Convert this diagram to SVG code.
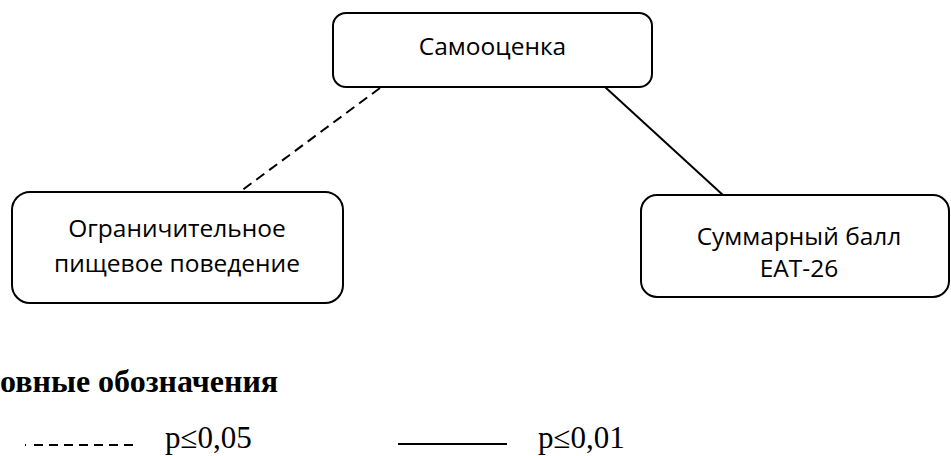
<svg xmlns="http://www.w3.org/2000/svg" width="951" height="456" viewBox="0 0 951 456">
<style>
.box{fill:#fff;stroke:#000;stroke-width:2}
.lbl{font-family:"Open Sans","Liberation Sans",sans-serif;font-size:24.5px;fill:#000;text-anchor:middle}
.conn{stroke:#000;stroke-width:2;fill:none}
.dash{stroke-dasharray:10 6}
.leg{font-family:"Liberation Serif","Times New Roman",serif;fill:#000}
</style>
<rect width="951" height="456" fill="#fff"/>
<g id="connectors">
<line class="conn dash" x1="380" y1="88" x2="241" y2="191"/>
<line class="conn" x1="605" y1="87" x2="724" y2="196"/>
</g>
<g id="node-self">
<rect class="box" x="333" y="13" width="319" height="74" rx="13"/>
<text class="lbl" x="492.5" y="55">Самооценка</text>
</g>
<g id="node-restrict">
<rect class="box" x="12" y="192" width="331" height="111" rx="18"/>
<text class="lbl" x="177" y="237">Ограничительное</text>
<text class="lbl" x="177" y="272">пищевое поведение</text>
</g>
<g id="node-eat">
<rect class="box" x="641" y="195" width="308" height="102" rx="16"/>
<text class="lbl" x="799" y="245">Суммарный балл</text>
<text class="lbl" x="799" y="277">EAT-26</text>
</g>
<g id="legend">
<text class="leg" x="0" y="392" font-size="32" font-weight="bold">овные обозначения</text>
<line class="conn" x1="25" y1="445" x2="26" y2="445" stroke-width="1"/>
<line class="conn" x1="34" y1="445" x2="134" y2="445" stroke-dasharray="9 6"/>
<text class="leg" x="165" y="448" font-size="31">p≤0,05</text>
<line class="conn" x1="398" y1="444" x2="507" y2="444" stroke-width="2.5"/>
<text class="leg" x="538" y="448" font-size="31">p≤0,01</text>
</g>
</svg>
